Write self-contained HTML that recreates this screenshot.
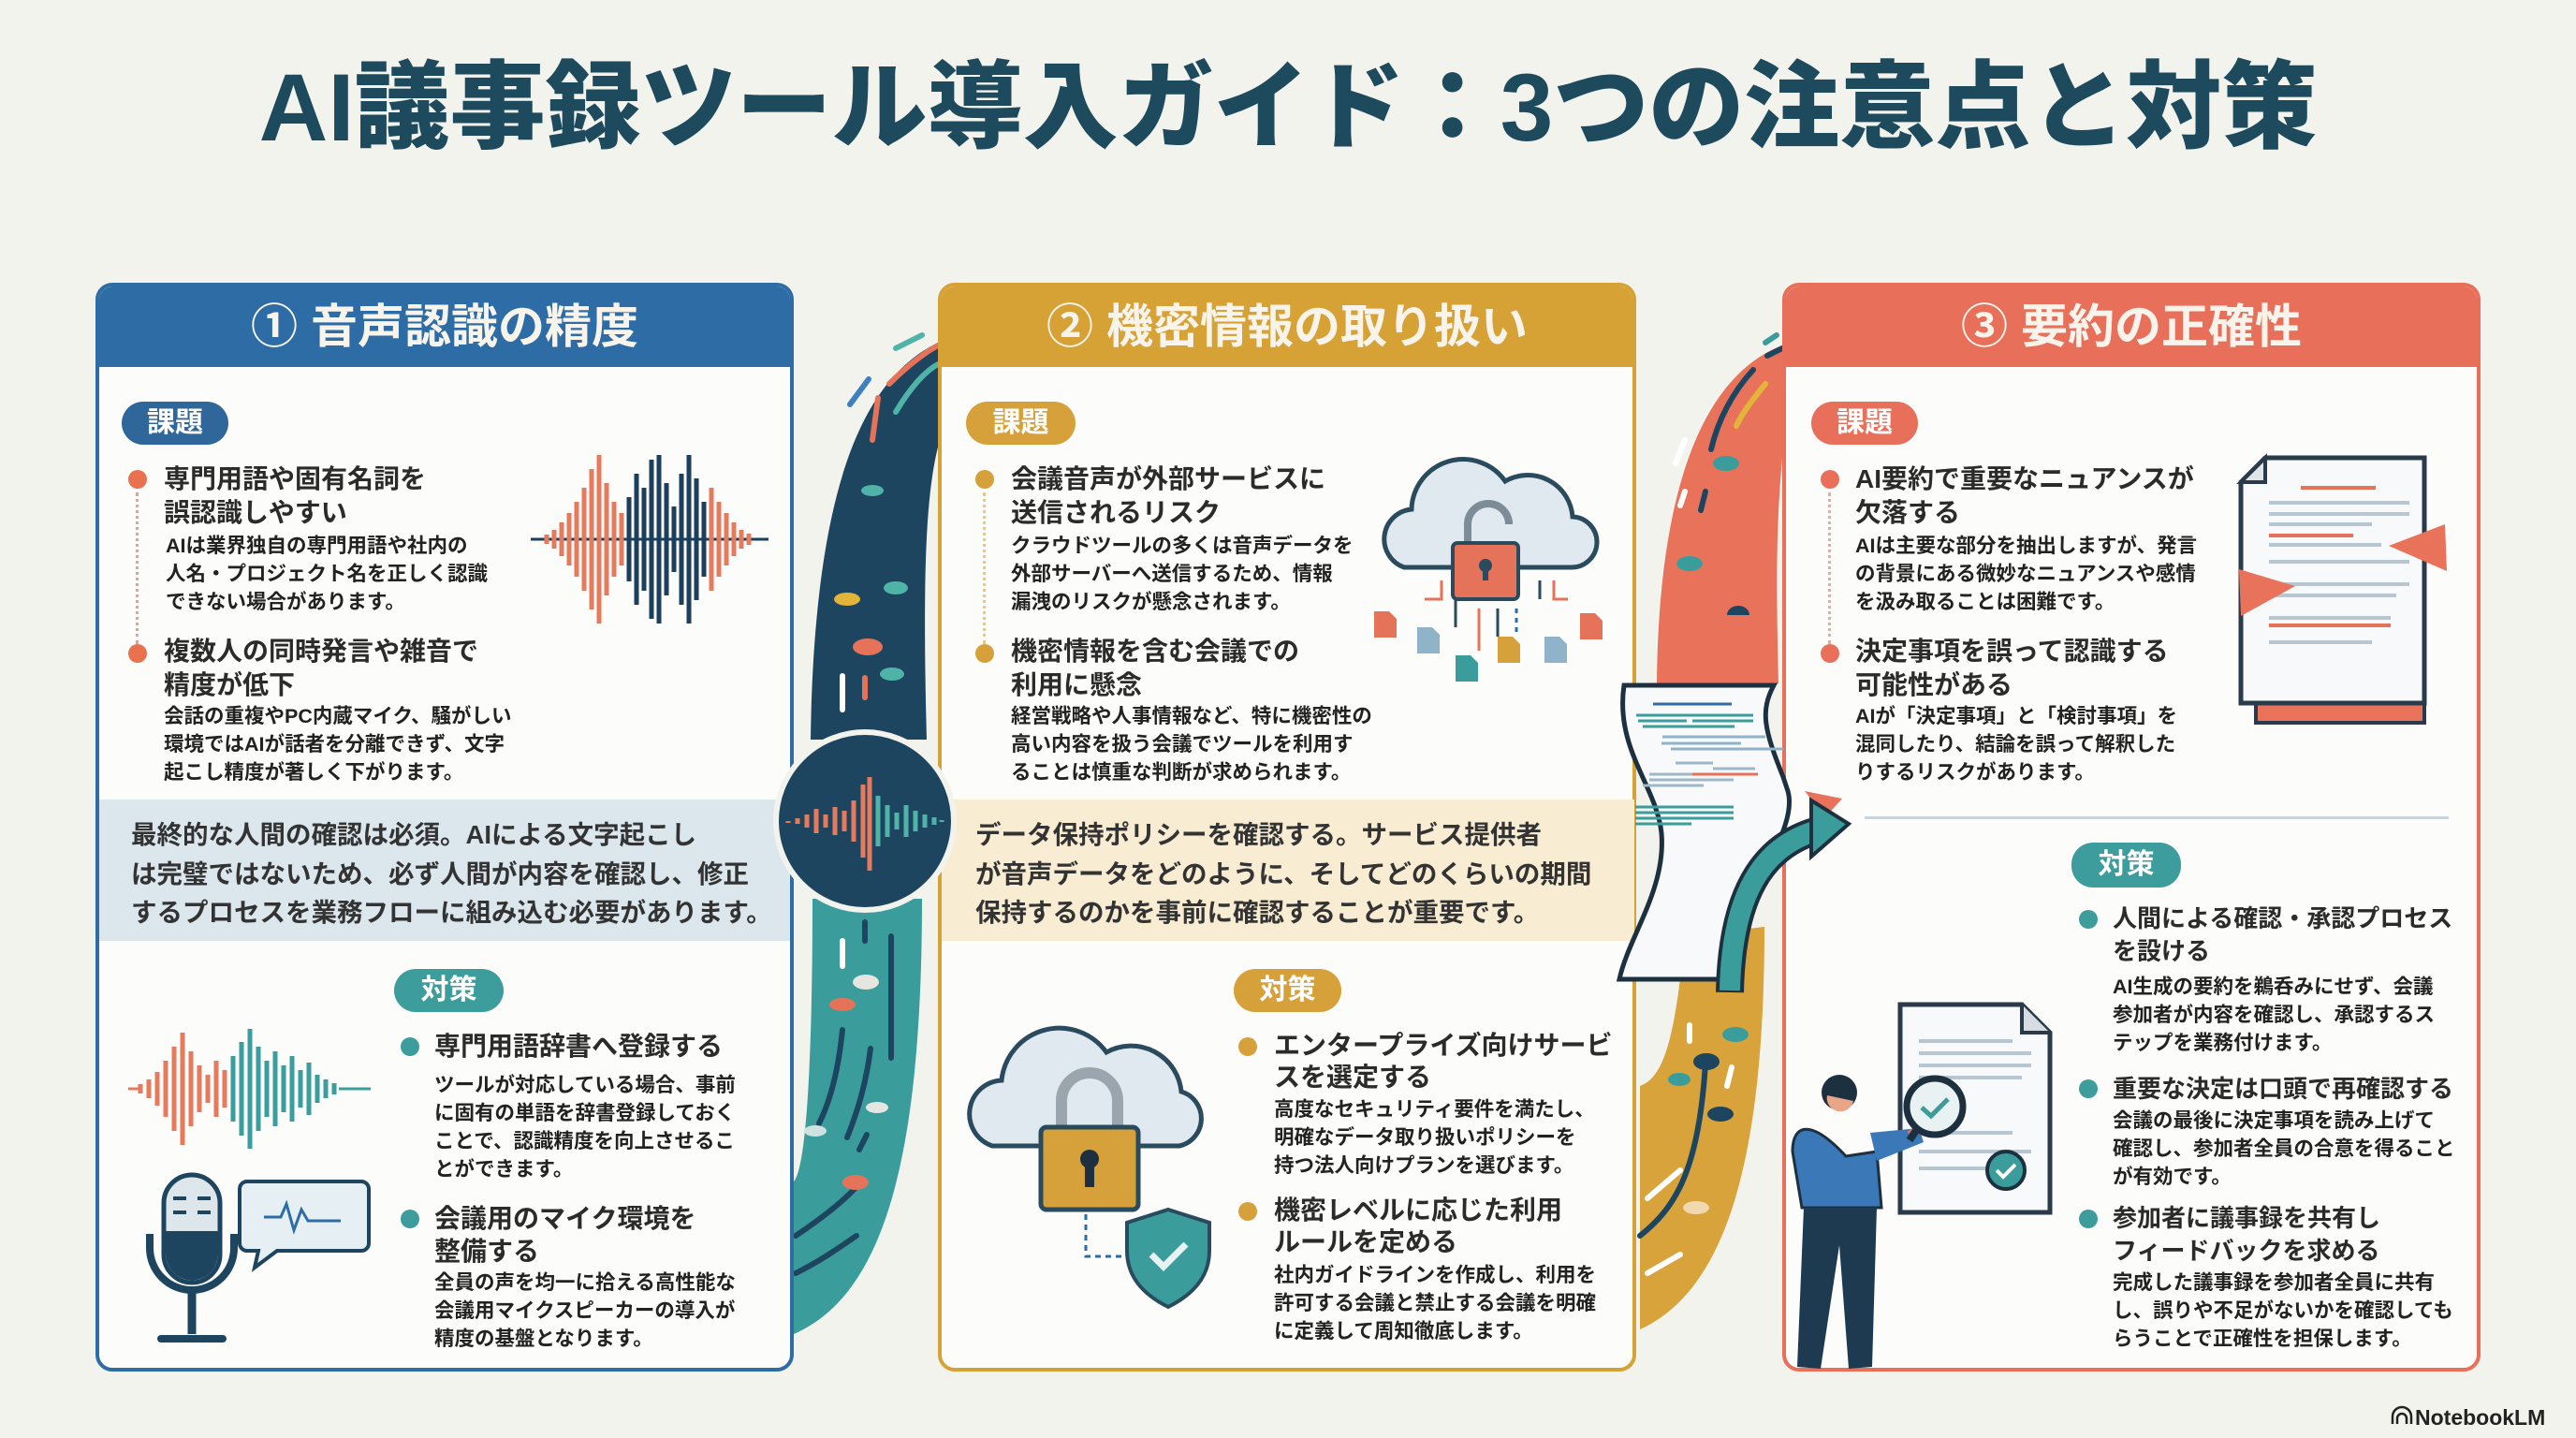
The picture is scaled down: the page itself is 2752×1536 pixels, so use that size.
<!DOCTYPE html>
<html><head><meta charset="utf-8">
<style>
*{margin:0;padding:0;box-sizing:border-box}
body{width:2752px;height:1536px;background:#f3f3ee;position:relative;overflow:hidden;font-family:"Liberation Sans","Noto Sans CJK JP",sans-serif;color:#2b2b2b}
.a{position:absolute;white-space:nowrap}
.panel{position:absolute;top:302px;height:1163px;width:746px;background:#fcfcfa;border:4px solid;border-radius:18px;overflow:hidden}
.hdr{position:absolute;left:0;top:0;right:0;height:86px;color:#f8f4ec;font-weight:700;font-size:50px;line-height:86px;text-align:center}
.pill{position:absolute;height:46px;border-radius:23px;color:#fff;font-weight:700;font-size:30px;line-height:46px;text-align:center}
.h{position:absolute;white-space:nowrap;font-weight:700;font-size:28px;line-height:36px;color:#2b2b2b}
.d{position:absolute;white-space:nowrap;font-weight:700;font-size:21.5px;line-height:30px;color:#222}
.band{position:absolute;top:854px;height:151px;font-weight:700;font-size:27.5px;line-height:41.5px;color:#333;white-space:nowrap}
.dot{position:absolute;width:20px;height:20px;border-radius:50%}
</style></head><body>

<svg class="a" style="left:0;top:0" width="2752" height="1536">
  <path d="M1004,365 C930,400 870,500 866,790 L990,790 C985,600 990,520 1004,470 Z" fill="#1d4560"/>
  <path d="M868,960 C868,1150 860,1250 848,1262 L848,1425 C940,1385 985,1250 985,960 Z" fill="#3b9d9b"/>
  <g stroke-linecap="round" fill="none" stroke-width="6">
    <path d="M957,372 L985,358" stroke="#4fb3a8"/>
    <path d="M950,410 C970,390 990,375 1004,368" stroke="#e5735a"/>
    <path d="M957,440 C975,410 990,395 1004,388" stroke="#4fb3a8"/>
    <path d="M928,405 L908,432" stroke="#3e7fc0"/>
    <path d="M938,425 L932,470" stroke="#e5735a"/>
    <path d="M900,722 V758" stroke="#fff"/>
    <path d="M924,724 V745" stroke="#e5735a"/>
    <path d="M900,1005 V1032" stroke="#fff"/>
    <path d="M924,985 V1005" stroke="#1d4560"/>
    <path d="M900,1100 C895,1150 885,1180 875,1200" stroke="#1d4560"/>
    <path d="M930,1120 C925,1160 915,1190 905,1215" stroke="#1d4560"/>
    <path d="M952,1000 V1130" stroke="#1d4560"/>
    <path d="M926,1212 L918,1228" stroke="#1d4560"/>
    <path d="M850,1320 C880,1300 905,1280 920,1262" stroke="#1d4560"/>
    <path d="M850,1360 C880,1345 900,1330 915,1320" stroke="#1d4560"/>
  </g>
  <ellipse cx="932" cy="524" rx="12" ry="6" fill="#4fb3a8"/>
  <ellipse cx="905" cy="640" rx="14" ry="7" fill="#e3b43a"/>
  <ellipse cx="927" cy="691" rx="16" ry="9" fill="#e5735a"/>
  <ellipse cx="957" cy="628" rx="13" ry="7" fill="#4fb3a8"/>
  <ellipse cx="953" cy="720" rx="13" ry="7" fill="#4fb3a8"/>
  <ellipse cx="925" cy="1049" rx="14" ry="8" fill="#e6e6e0"/>
  <ellipse cx="900" cy="1073" rx="14" ry="7" fill="#e5735a"/>
  <ellipse cx="937" cy="1183" rx="12" ry="6" fill="#e6e6e0"/>
  <ellipse cx="871" cy="1208" rx="12" ry="6" fill="#cfe2e2"/>
  <ellipse cx="914" cy="1263" rx="14" ry="8" fill="#e5735a"/>
  <path d="M1906,368 C1820,400 1772,520 1770,730 L1900,730 C1898,640 1896,560 1906,470 Z" fill="#e9735a"/>
  <path d="M1752,1060 L1752,1420 C1840,1380 1885,1250 1885,990 L1800,1000 C1790,1100 1780,1150 1752,1160 Z" fill="#d8a33a"/>
  <g stroke-linecap="round" fill="none" stroke-width="6">
    <path d="M1886,366 L1898,358" stroke="#3b9d9b"/>
    <path d="M1888,380 L1904,372" stroke="#1d4560"/>
    <path d="M1873,395 C1850,420 1835,450 1828,480" stroke="#1d4560"/>
    <path d="M1886,410 C1870,430 1862,440 1855,455" stroke="#e3b43a"/>
    <path d="M1822,525 L1817,545" stroke="#1d4560"/>
    <path d="M1795,540 L1800,525" stroke="#fff"/>
    <path d="M1800,470 L1790,495" stroke="#fff"/>
    <path d="M1805,1095 V1112" stroke="#fff"/>
    <path d="M1850,1140 L1845,1160" stroke="#fff"/>
    <path d="M1752,1320 C1790,1290 1815,1250 1822,1135" stroke="#1d4560"/>
    <path d="M1760,1280 L1795,1250" stroke="#fff"/>
    <path d="M1760,1360 L1795,1340" stroke="#fff"/>
  </g>
  <ellipse cx="1844" cy="495" rx="14" ry="8" fill="#3b9d9b"/>
  <ellipse cx="1805" cy="602" rx="14" ry="8" fill="#3b9d9b"/>
  <path d="M1845,657 a12,10 0 0 1 24,0 z" fill="#1d4560"/>
  <ellipse cx="1854" cy="1105" rx="14" ry="8" fill="#3b9d9b"/>
  <ellipse cx="1823" cy="1134" rx="14" ry="9" fill="#1d4560"/>
  <ellipse cx="1794" cy="1153" rx="12" ry="7" fill="#3b9d9b"/>
  <ellipse cx="1838" cy="1190" rx="14" ry="8" fill="#1d4560"/>
  <ellipse cx="1812" cy="1290" rx="14" ry="7" fill="#f0d9b0"/>
</svg>

<div class="a" style="left:0;width:2752px;top:50px;text-align:center;font-size:102px;line-height:130px;font-weight:900;color:#1e4a5d">AI議事録ツール導入ガイド：3つの注意点と対策</div>

<div class="panel" style="left:102px;border-color:#2d6ca5">
  <div class="hdr" style="background:#2d6ca5">① 音声認識の精度</div>
</div>
<div class="pill" style="left:130px;top:429px;width:114px;background:#2f679b">課題</div>
<div class="dot" style="left:137px;top:502px;background:#e8714f"></div>
<div class="a" style="left:145px;top:526px;height:162px;border-left:3px dotted #e8a08a"></div>
<div class="dot" style="left:137px;top:688px;background:#e8714f"></div>
<div class="h" style="left:175px;top:494px">専門用語や固有名詞を<br>誤認識しやすい</div>
<div class="d" style="left:177px;top:568px">AIは業界独自の専門用語や社内の<br>人名・プロジェクト名を正しく認識<br>できない場合があります。</div>
<div class="h" style="left:175px;top:678px">複数人の同時発言や雑音で<br>精度が低下</div>
<div class="d" style="left:175px;top:750px">会話の重複やPC内蔵マイク、騒がしい<br>環境ではAIが話者を分離できず、文字<br>起こし精度が著しく下がります。</div>
<div class="band" style="left:106px;width:738px;background:#dbe7ed;padding:17px 0 0 34px">最終的な人間の確認は必須。AIによる文字起こし<br>は完璧ではないため、必ず人間が内容を確認し、修正<br>するプロセスを業務フローに組み込む必要があります。</div>
<div class="pill" style="left:421px;top:1035px;width:117px;background:#3d9c9c">対策</div>
<div class="dot" style="left:428px;top:1108px;background:#3d9c9c"></div>
<div class="dot" style="left:428px;top:1292px;background:#3d9c9c"></div>
<div class="h" style="left:464px;top:1100px">専門用語辞書へ登録する</div>
<div class="d" style="left:464px;top:1144px">ツールが対応している場合、事前<br>に固有の単語を辞書登録しておく<br>ことで、認識精度を向上させるこ<br>とができます。</div>
<div class="h" style="left:464px;top:1284px;line-height:35px">会議用のマイク環境を<br>整備する</div>
<div class="d" style="left:464px;top:1355px">全員の声を均一に拾える高性能な<br>会議用マイクスピーカーの導入が<br>精度の基盤となります。</div>

<div class="panel" style="left:1002px;border-color:#d6a135">
  <div class="hdr" style="background:#d6a135">② 機密情報の取り扱い</div>
</div>
<div class="pill" style="left:1032px;top:429px;width:117px;background:#d6a13a">課題</div>
<div class="dot" style="left:1042px;top:502px;background:#d6a13a"></div>
<div class="a" style="left:1050px;top:526px;height:162px;border-left:3px dotted #e6c98a"></div>
<div class="dot" style="left:1042px;top:688px;background:#d6a13a"></div>
<div class="h" style="left:1080px;top:494px">会議音声が外部サービスに<br>送信されるリスク</div>
<div class="d" style="left:1080px;top:568px">クラウドツールの多くは音声データを<br>外部サーバーへ送信するため、情報<br>漏洩のリスクが懸念されます。</div>
<div class="h" style="left:1080px;top:678px">機密情報を含む会議での<br>利用に懸念</div>
<div class="d" style="left:1080px;top:750px">経営戦略や人事情報など、特に機密性の<br>高い内容を扱う会議でツールを利用す<br>ることは慎重な判断が求められます。</div>
<div class="band" style="left:1006px;width:740px;background:#f8ecd3;padding:17px 0 0 36px">データ保持ポリシーを確認する。サービス提供者<br>が音声データをどのように、そしてどのくらいの期間<br>保持するのかを事前に確認することが重要です。</div>
<div class="pill" style="left:1318px;top:1035px;width:115px;background:#d6a13a">対策</div>
<div class="dot" style="left:1323px;top:1108px;background:#d6a13a"></div>
<div class="dot" style="left:1323px;top:1284px;background:#d6a13a"></div>
<div class="h" style="left:1361px;top:1100px;line-height:34px">エンタープライズ向けサービ<br>スを選定する</div>
<div class="d" style="left:1361px;top:1170px">高度なセキュリティ要件を満たし、<br>明確なデータ取り扱いポリシーを<br>持つ法人向けプランを選びます。</div>
<div class="h" style="left:1361px;top:1276px;line-height:34px">機密レベルに応じた利用<br>ルールを定める</div>
<div class="d" style="left:1361px;top:1347px">社内ガイドラインを作成し、利用を<br>許可する会議と禁止する会議を明確<br>に定義して周知徹底します。</div>

<div class="panel" style="left:1904px;border-color:#e8705a">
  <div class="hdr" style="background:#e8705a">③ 要約の正確性</div>
</div>
<div class="pill" style="left:1935px;top:429px;width:114px;background:#e8705a">課題</div>
<div class="dot" style="left:1945px;top:502px;background:#e8705a"></div>
<div class="a" style="left:1953px;top:526px;height:162px;border-left:3px dotted #eea898"></div>
<div class="dot" style="left:1945px;top:688px;background:#e8705a"></div>
<div class="h" style="left:1982px;top:494px">AI要約で重要なニュアンスが<br>欠落する</div>
<div class="d" style="left:1982px;top:568px">AIは主要な部分を抽出しますが、発言<br>の背景にある微妙なニュアンスや感情<br>を汲み取ることは困難です。</div>
<div class="h" style="left:1982px;top:678px">決定事項を誤って認識する<br>可能性がある</div>
<div class="d" style="left:1982px;top:750px">AIが「決定事項」と「検討事項」を<br>混同したり、結論を誤って解釈した<br>りするリスクがあります。</div>
<div class="a" style="left:1992px;top:872px;width:624px;height:3px;background:#c9d3da"></div>
<div class="pill" style="left:2213px;top:900px;width:117px;height:48px;line-height:48px;background:#3d9c9c">対策</div>
<div class="dot" style="left:2221px;top:972px;background:#3d9c9c"></div>
<div class="dot" style="left:2221px;top:1153px;background:#3d9c9c"></div>
<div class="dot" style="left:2221px;top:1292px;background:#3d9c9c"></div>
<div class="h" style="left:2257px;top:964px;font-size:26px;line-height:35px">人間による確認・承認プロセス<br>を設ける</div>
<div class="d" style="left:2257px;top:1039px">AI生成の要約を鵜呑みにせず、会議<br>参加者が内容を確認し、承認するス<br>テップを業務付けます。</div>
<div class="h" style="left:2257px;top:1145px;font-size:26px">重要な決定は口頭で再確認する</div>
<div class="d" style="left:2257px;top:1182px">会議の最後に決定事項を読み上げて<br>確認し、参加者全員の合意を得ること<br>が有効です。</div>
<div class="h" style="left:2257px;top:1284px;font-size:26px;line-height:35px">参加者に議事録を共有し<br>フィードバックを求める</div>
<div class="d" style="left:2257px;top:1355px">完成した議事録を参加者全員に共有<br>し、誤りや不足がないかを確認しても<br>らうことで正確性を担保します。</div>

<svg class="a" style="left:0;top:0" width="2752" height="1536">
  <line x1="567" y1="576" x2="821" y2="576" stroke="#1d3f5f" stroke-width="3"/>
  <path stroke="#e57a5c" stroke-width="5" d="M584,571V581 M592,566V586 M600,558V594 M608,548V604 M616,536V616 M624,521V631 M632,501V651 M640,486V666 M648,516V636 M656,536V616 M664,548V604 M760,521V631 M768,536V616 M776,548V604 M784,558V594 M792,566V586 M800,570V582"/>
  <path stroke="#1d3f5f" stroke-width="5" d="M672,531V621 M680,506V646 M688,521V631 M696,491V661 M704,486V666 M712,516V636 M720,541V611 M728,506V646 M736,486V666 M744,511V641 M752,536V616"/>
  <line x1="137" y1="1163" x2="148" y2="1163" stroke="#e57a5c" stroke-width="3"/>
  <line x1="362" y1="1163" x2="396" y2="1163" stroke="#3a9e9e" stroke-width="3"/>
  <path stroke="#e57a5c" stroke-width="5" d="M150,1158V1168 M159,1153V1173 M168,1145V1181 M177,1133V1193 M186,1118V1208 M195,1103V1223 M204,1123V1203 M213,1138V1188 M222,1148V1178 M231,1133V1193 M240,1143V1183"/>
  <path stroke="#3a9e9e" stroke-width="5" d="M249,1128V1198 M258,1113V1213 M267,1099V1227 M276,1118V1208 M285,1133V1193 M294,1123V1203 M303,1138V1188 M312,1128V1198 M321,1143V1183 M330,1135V1191 M339,1148V1178 M348,1153V1173 M357,1157V1169"/>
  <path d="M160,1318 v15 a45,45 0 0 0 90,0 v-15" fill="none" stroke="#1d4560" stroke-width="8"/>
  <rect x="175" y="1255" width="60" height="115" rx="30" fill="#dde6ea" stroke="#1d4560" stroke-width="5"/>
  <path d="M177.5,1315 h55 v25 a27.5,27.5 0 0 1 -55,0 z" fill="#1d4560"/>
  <path d="M185,1280h14 M211,1280h14 M185,1295h14 M211,1295h14" stroke="#1d4560" stroke-width="4"/>
  <line x1="205" y1="1380" x2="205" y2="1425" stroke="#1d4560" stroke-width="9"/>
  <line x1="172" y1="1430" x2="238" y2="1430" stroke="#1d4560" stroke-width="8" stroke-linecap="round"/>
  <path d="M270,1262 h122 a8,8 0 0 1 8,8 v58 a8,8 0 0 1 -8,8 h-90 l-24,18 l4,-18 h-12 a8,8 0 0 1 -8,-8 v-58 a8,8 0 0 1 8,-8 z" fill="#e6f0f4" stroke="#1d4560" stroke-width="4" transform="translate(-6,0)"/>
  <path d="M282,1300 h18 l6,-14 l8,28 l8,-22 l7,12 h35" fill="none" stroke="#2d6ca5" stroke-width="3"/>

  <circle cx="924" cy="877" r="95" fill="#1d4560" stroke="#f3f3ee" stroke-width="6"/>
  <path stroke="#e57a5c" stroke-width="5" d="M842,877V879 M852,874V880 M862,870V884 M872,864V890 M882,870V884 M892,862V892 M902,866V888 M912,855V899 M922,838V916 M929,830V930"/>
  <path stroke="#4fb3a8" stroke-width="5" d="M938,850V904 M948,860V894 M958,868V886 M968,860V894 M978,866V888 M988,870V884 M998,873V881 M1006,876V878"/>

  <path d="M1500,606 a32,32 0 0 1 8,-62 a55,55 0 0 1 100,-30 a48,48 0 0 1 72,38 a27,27 0 0 1 -2,54 z" fill="#dfe9ef" stroke="#2a4a5e" stroke-width="5"/>
  <path d="M1568,582 v-22 a22,22 0 0 1 44,0 v-4" fill="none" stroke="#7d8d98" stroke-width="8"/>
  <rect x="1552" y="580" width="70" height="60" rx="5" fill="#e5735a" stroke="#2a4a5e" stroke-width="4"/>
  <circle cx="1587" cy="604" r="7" fill="#2a4a5e"/><rect x="1584" y="604" width="6" height="16" fill="#2a4a5e"/>
  <g fill="none" stroke-width="3">
    <path d="M1540,620 v20 h-18" stroke="#e5735a"/>
    <path d="M1555,640 v30" stroke="#2a4a5e"/>
    <path d="M1580,650 v45" stroke="#e5735a"/>
    <path d="M1600,650 v30" stroke="#2a4a5e"/>
    <path d="M1620,650 v25" stroke="#2d6ca5" stroke-dasharray="5 5"/>
    <path d="M1645,620 v20" stroke="#2a4a5e"/>
    <path d="M1660,620 v20 h15" stroke="#e5735a"/>
  </g>
  <path d="M1468,653 h16 l8,8 v20 h-24 z" fill="#e5735a"/>
  <path d="M1514,670 h16 l8,8 v20 h-24 z" fill="#8fb3c8"/>
  <path d="M1555,700 h16 l8,8 v20 h-24 z" fill="#3b9d9b"/>
  <path d="M1600,680 h16 l8,8 v20 h-24 z" fill="#d6a13a"/>
  <path d="M1650,680 h16 l8,8 v20 h-24 z" fill="#8fb3c8"/>
  <path d="M1688,655 h16 l8,8 v20 h-24 z" fill="#e5735a"/>

  <path d="M1060,1224 a36,36 0 0 1 10,-70 a62,62 0 0 1 112,-30 a54,54 0 0 1 80,42 a30,30 0 0 1 -2,58 z" fill="#dfe9ef" stroke="#2a4a5e" stroke-width="5"/>
  <path d="M1134,1206 v-30 a30,30 0 0 1 60,0 v30" fill="none" stroke="#9aa5ad" stroke-width="12"/>
  <rect x="1112" y="1204" width="104" height="88" rx="6" fill="#d6a13a" stroke="#2a4a5e" stroke-width="5"/>
  <circle cx="1164" cy="1238" r="10" fill="#1d3040"/><rect x="1159" y="1240" width="10" height="28" fill="#1d3040"/>
  <path d="M1160,1297 v45 h45" fill="none" stroke="#2d6ca5" stroke-width="3" stroke-dasharray="6 5"/>
  <path d="M1248,1292 l44,14 v30 c0,30 -20,48 -44,60 c-24,-12 -44,-30 -44,-60 v-30 z" fill="#3b9d9b" stroke="#2a4a5e" stroke-width="4"/>
  <path d="M1230,1340 l13,13 l24,-24" fill="none" stroke="#e6f3f2" stroke-width="7"/>

  <path d="M1735,732 H1895 C1880,760 1885,780 1905,830 L1910,845 C1920,880 1880,930 1860,990 L1860,1046 H1730 C1740,1000 1780,950 1775,890 C1770,840 1725,800 1735,732 Z" fill="#f7f9fb" stroke="#1d3040" stroke-width="5"/>
  <g stroke-width="3">
    <path d="M1766,752h84" stroke="#2d6ca5"/>
    <path d="M1748,764h125 M1750,770h52 M1808,770h65 M1755,776h98" stroke="#3b9d9b"/>
    <path d="M1776,787h110 M1775,794h85 M1785,800h120" stroke="#8fb3c8"/>
    <path d="M1790,815h40 M1830,821h45 M1762,827h52 M1808,827h70 M1762,833h90 M1755,839h65" stroke="#9fb8c8"/>
    <path d="M1808,827h70" stroke="#e5735a"/>
    <path d="M1747,862h105 M1747,868h105 M1747,874h30 M1772,874h80 M1747,880h60" stroke="#3b9d9b"/>
  </g>
  <path d="M1928,845 l40,8 l-18,20 z" fill="#e9735a"/>
  <path d="M1848,1060 C1850,960 1880,900 1950,885" fill="none" stroke="#1d3040" stroke-width="30"/>
  <path d="M1848,1058 C1850,960 1880,900 1950,885" fill="none" stroke="#3b9d9b" stroke-width="22"/>
  <path d="M1935,855 L1975,880 L1935,915 Z" fill="#3b9d9b" stroke="#1d3040" stroke-width="4"/>

  <path d="M2410,508 h180 v264 h-180 z" fill="#e9735a" stroke="#2a3a4a" stroke-width="4"/>
  <path d="M2430,494 h170 v262 h-196 v-236 z" fill="#f8f9fb" stroke="#2a3a4a" stroke-width="5" transform="translate(-10,-5)"/>
  <path d="M2394,515 l26,-26 v26 z" fill="#dfe6ea" stroke="#2a3a4a" stroke-width="4"/>
  <g stroke-width="4">
    <path d="M2458,521h80" stroke="#e5735a"/>
    <path d="M2424,537h150 M2424,549h150 M2424,560h110 M2424,582h120 M2424,600h150 M2424,624h150 M2430,636h130 M2424,660h130 M2424,686h110" stroke="#b7c6d1"/>
    <path d="M2424,572h90 M2424,668h130" stroke="#e5735a"/>
  </g>
  <path d="M2552,583 L2612,560 L2614,610 Z" fill="#e9735a"/>
  <path d="M2392,608 L2452,626 L2394,658 Z" fill="#e9735a"/>

  <path d="M2030,1073 h130 l30,30 v192 h-160 z" fill="#f8f9fb" stroke="#2a3a4a" stroke-width="5"/>
  <path d="M2160,1073 v30 h30" fill="#d5dde2" stroke="#2a3a4a" stroke-width="4"/>
  <path d="M2050,1112h100 M2050,1125h120 M2050,1138h120 M2050,1151h110 M2050,1210h100 M2050,1230h120 M2050,1248h80" stroke="#b7c6d1" stroke-width="4"/>
  <circle cx="2143" cy="1250" r="20" fill="#3b9d9b" stroke="#1d3040" stroke-width="4"/>
  <path d="M2133,1250 l7,7 l13,-13" fill="none" stroke="#fff" stroke-width="4"/>
  <path d="M1972,1235 C1935,1195 1915,1200 1915,1230 L1925,1290 L2010,1290 L2005,1230 Z" fill="#3a78b8" stroke="#1d3040" stroke-width="3"/>
  <path d="M1998,1210 L2050,1205 L2055,1220 L2005,1240 Z" fill="#3a78b8"/>
  <path d="M2040,1212 L2060,1198" stroke="#e5735a" stroke-width="8"/>
  <circle cx="1965" cy="1167" r="19" fill="#1d3040"/>
  <path d="M1952,1170 a14,14 0 0 0 28,6 z" fill="#e9a588"/>
  <path d="M1927,1290 L1920,1460 L1945,1462 L1965,1330 L1975,1462 L2000,1460 L2005,1290 Z" fill="#1d3a50"/>
  <line x1="2052" y1="1200" x2="2040" y2="1218" stroke="#1d3040" stroke-width="8"/>
  <circle cx="2067" cy="1182" r="30" fill="#e8f2f2" stroke="#1d3040" stroke-width="7"/>
  <path d="M2053,1183 l10,9 l18,-18" fill="none" stroke="#3b9d9b" stroke-width="5"/>

  <path d="M2556,1521 v-8 a10,10 0 0 1 20,0 v8 M2561,1521 v-6 a5,5 0 0 1 10,0 v6" fill="none" stroke="#222" stroke-width="2.5"/>
</svg>
<div class="a" style="left:2580px;top:1500px;font-size:23px;font-weight:700;color:#222;line-height:28px">NotebookLM</div>
</body></html>
